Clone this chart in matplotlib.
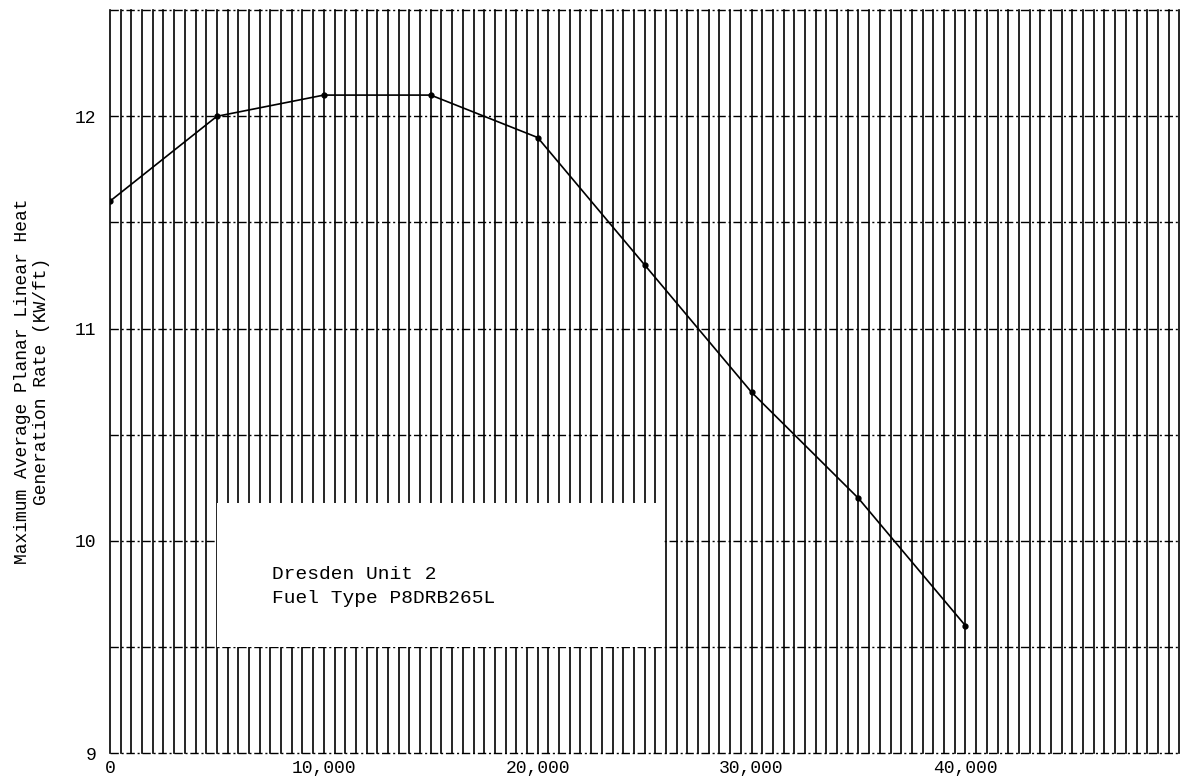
import numpy as np
import matplotlib.pyplot as plt
import matplotlib
from matplotlib.patches import Rectangle

matplotlib.rc('font', family='Liberation Mono', size=12)

# exposure (MWd/t) vs MAPLHGR (kW/ft)
exposure = [0, 5000, 10000, 15000, 20000, 25000, 30000, 35000, 40000]
maplhgr = [11.6, 12.0, 12.1, 12.1, 11.9, 11.3, 10.7, 10.2, 9.6]

xticks = [0, 10000, 20000, 30000, 40000]
xticklabels = ['0', '10,000', '20,000', '30,000', '40,000']
yticks = [9, 10, 11, 12]
yticklabels = ['9', '10', '11', '12']

x_min, x_max = 0, 50000
y_min, y_max = 9, 12.5

fig = plt.figure(figsize=(11.9, 7.84), dpi=100)
ax = fig.add_axes([0.0924, 0.0395, 0.8986, 0.9475])

# graph paper: solid verticals every 500, dash-dot horizontals every 0.5
for xv in np.arange(x_min, x_max + 1, 500):
    ax.axvline(xv, color='black', linewidth=1.2, zorder=1, clip_on=False)
for yv in np.arange(y_min, y_max + 0.01, 0.5):
    ax.axhline(yv, color='black', linewidth=1.0, linestyle=(0, [6, 2, 1.5, 2]),
               zorder=1, clip_on=False)

# blank label area on the paper
ax.add_patch(Rectangle((5000, 9.5), 20800, 0.68, facecolor='white',
                       edgecolor='none', zorder=2))
ax.text(7600, 9.84, 'Dresden Unit 2', fontsize=14, va='center', zorder=3)
ax.text(7600, 9.73, 'Fuel Type P8DRB265L', fontsize=14, va='center', zorder=3)

ax.plot(exposure, maplhgr, color='black', linewidth=1.2, marker='o',
        markersize=3.5, zorder=4)

ax.set_xlim(x_min, x_max)
ax.set_ylim(y_min, y_max)
ax.set_xticks(xticks)
ax.set_xticklabels(xticklabels, fontsize=13)
ax.set_yticks(yticks)
ax.set_yticklabels(yticklabels, fontsize=13)
ax.tick_params(axis='both', length=0)
ax.tick_params(axis='x', pad=5)
ax.tick_params(axis='y', pad=10)

ax.set_ylabel('Maximum Average Planar Linear Heat\nGeneration Rate (KW/ft)',
              fontsize=13, labelpad=18, linespacing=1.1)

for side in ['top', 'bottom', 'left', 'right']:
    ax.spines[side].set_visible(False)

plt.savefig('out.png', dpi=100)
